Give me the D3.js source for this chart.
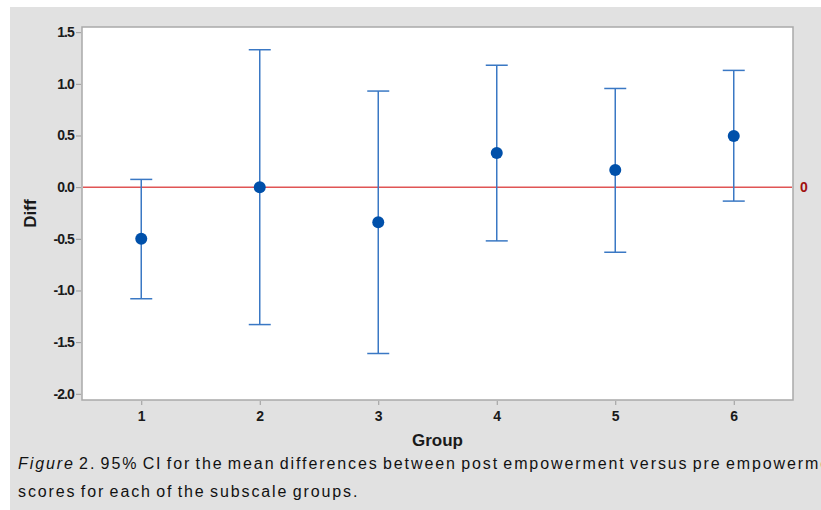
<!DOCTYPE html>
<html>
<head>
<meta charset="utf-8">
<script src="https://cdn.jsdelivr.net/npm/d3@7"></script>
<style>
  html, body { margin: 0; padding: 0; background: #ffffff; }
  svg { display: block; }
</style>
</head>
<body>
<div id="chart"></div>
<script>
// group means and 95% CI bounds
var groups = [1, 2, 3, 4, 5, 6];
var means = [-0.50, 0.00, -0.34, 0.33, 0.165, 0.495];
var lower = [-1.08, -1.33, -1.61, -0.52, -0.63, -0.135];
var upper = [0.075, 1.33, 0.93, 1.18, 0.955, 1.13];
var yTicks = [-2.0, -1.5, -1.0, -0.5, 0.0, 0.5, 1.0, 1.5];
var refValue = 0;

var width = 821, height = 510;
var plot = { left: 82, top: 27, right: 793, bottom: 400 };
var tickFont = '"Liberation Sans", Arial, sans-serif';
var blue = '#3a78c4', dot = '#0050aa';

var svg = d3.select('#chart')
    .append('svg')
    .attr('width', width)
    .attr('height', height);

// grey page behind the figure
svg.append('rect')
    .attr('x', 10).attr('y', 7)
    .attr('width', width - 10).attr('height', height - 7)
    .attr('fill', '#e1e1e1');

var x = d3.scaleLinear().domain([0.5, 6.5]).range([plot.left, plot.right]);
var y = d3.scaleLinear().domain([-2.06, 1.55]).range([plot.bottom, plot.top]);

svg.append('rect')
    .attr('x', plot.left).attr('y', plot.top)
    .attr('width', plot.right - plot.left).attr('height', plot.bottom - plot.top)
    .attr('fill', '#ffffff')
    .attr('stroke', '#a9a9a9')
    .attr('stroke-width', 1.5);

var yAxis = svg.append('g')
    .attr('transform', 'translate(' + (plot.left - 1) + ',0)')
    .call(d3.axisLeft(y).tickValues(yTicks).tickFormat(d3.format('.1f')).tickSize(5).tickPadding(2));
var xAxis = svg.append('g')
    .attr('transform', 'translate(0,' + (plot.bottom + 1) + ')')
    .call(d3.axisBottom(x).tickValues(groups).tickFormat(d3.format('d')).tickSize(4).tickPadding(6));

[yAxis, xAxis].forEach(function (ax) {
    ax.select('.domain').remove();
    ax.selectAll('line').attr('stroke', '#9a9a9a');
    ax.selectAll('text')
        .attr('fill', '#1a1a1a')
        .style('font-family', tickFont)
        .style('font-weight', 'bold')
        .style('font-size', '14px');
});
yAxis.selectAll('text')
    .style('letter-spacing', '-0.9px')
    .text(function (d) { return d < 0 ? '-' + d3.format('.1f')(-d) : d3.format('.1f')(d); });

// reference line at zero
svg.append('line')
    .attr('x1', plot.left + 1).attr('x2', plot.right - 1)
    .attr('y1', y(refValue)).attr('y2', y(refValue))
    .attr('stroke', '#e05555').attr('stroke-width', 1.5);
svg.append('text')
    .attr('x', plot.right + 7).attr('y', y(refValue) + 5)
    .attr('fill', '#a01010')
    .style('font-family', '"Liberation Sans", Arial, sans-serif')
    .style('font-weight', 'bold')
    .style('font-size', '14px')
    .text(refValue);

// interval bars
var bars = svg.append('g').selectAll('g')
    .data(groups)
    .enter().append('g');
bars.append('line')
    .attr('x1', function (d) { return x(d); })
    .attr('x2', function (d) { return x(d); })
    .attr('y1', function (d, i) { return y(lower[i]); })
    .attr('y2', function (d, i) { return y(upper[i]); })
    .attr('stroke', blue).attr('stroke-width', 1.5);
bars.append('line')
    .attr('x1', function (d) { return x(d) - 11; })
    .attr('x2', function (d) { return x(d) + 11; })
    .attr('y1', function (d, i) { return y(upper[i]); })
    .attr('y2', function (d, i) { return y(upper[i]); })
    .attr('stroke', blue).attr('stroke-width', 1.5);
bars.append('line')
    .attr('x1', function (d) { return x(d) - 11; })
    .attr('x2', function (d) { return x(d) + 11; })
    .attr('y1', function (d, i) { return y(lower[i]); })
    .attr('y2', function (d, i) { return y(lower[i]); })
    .attr('stroke', blue).attr('stroke-width', 1.5);
bars.append('circle')
    .attr('cx', function (d) { return x(d); })
    .attr('cy', function (d, i) { return y(means[i]); })
    .attr('r', 6)
    .attr('fill', dot);

// axis titles
svg.append('text')
    .attr('x', (plot.left + plot.right) / 2)
    .attr('y', 446)
    .attr('text-anchor', 'middle')
    .attr('fill', '#1a1a1a')
    .style('font-family', '"Liberation Sans", Arial, sans-serif')
    .style('font-weight', 'bold')
    .style('font-size', '17px')
    .text('Group');
svg.append('text')
    .attr('transform', 'translate(36,' + ((plot.top + plot.bottom) / 2) + ') rotate(-90)')
    .attr('text-anchor', 'middle')
    .attr('fill', '#1a1a1a')
    .style('font-family', '"Liberation Sans", Arial, sans-serif')
    .style('font-weight', 'bold')
    .style('font-size', '17px')
    .text('Diff');

// caption (runs past the right edge, as in the source page)
var cap = svg.append('g')
    .style('font-family', '"Liberation Sans", Arial, sans-serif')
    .style('font-size', '16px')
    .style('letter-spacing', '1.9px')
    .style('word-spacing', '-2px')
    .attr('fill', '#111111');
var line1 = cap.append('text').attr('x', 18).attr('y', 469);
line1.append('tspan').style('font-style', 'italic').text('Figure');
line1.append('tspan').text(' 2.  95% CI for the mean differences between post empowerment versus pre empowerment');
cap.append('text').attr('x', 18).attr('y', 497)
    .text('scores for each of the subscale groups.');
</script>
</body>
</html>
